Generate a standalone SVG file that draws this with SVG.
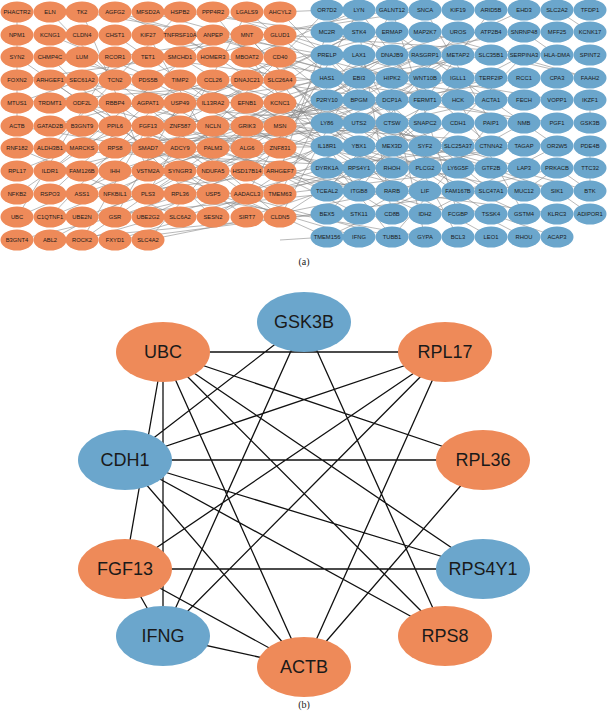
<svg xmlns="http://www.w3.org/2000/svg" width="608" height="717" viewBox="0 0 608 717">
<style>
.o{fill:#ee8a59}
.b{fill:#6ba6cc}
.t{font-family:"Liberation Sans",Arial,sans-serif;font-size:5.8px;fill:#1a1a1a;text-anchor:middle;dominant-baseline:central}
.T{font-family:"Liberation Sans",Arial,sans-serif;font-size:18px;fill:#1a1a1a;text-anchor:middle;dominant-baseline:central}
.cap{font-family:"Liberation Serif","Times New Roman",serif;font-size:10px;fill:#222;text-anchor:middle}
.e{stroke:#8a8a8a;stroke-width:0.6;fill:none}
.E{stroke:#111;stroke-width:1.3;fill:none}
</style>
<rect width="608" height="717" fill="#fff"/>
<g id="edges-a">
<path class="e" d="M213 12L425 78M247 35L327 123M280 57L392 146M280 80L359 191M247 103L458 32M213 126L327 10M280 148L425 214M247 171L359 55M280 194L491 168M213 217L392 100M148 240L392 191M180 217L425 146M148 194L359 78M115 171L327 100M82 148L458 123M50 126L392 32M180 103L491 55M148 80L327 168M115 57L425 10M180 35L359 146M82 12L327 55M213 57L524 100M247 80L557 123M280 12L458 191M280 103L524 214M280 171L327 32M213 194L359 237M247 217L458 146M180 148L392 55M148 126L425 100M115 103L359 123M213 148L327 191M247 57L359 10M180 171L491 100M148 12L392 78M280 35L557 55M280 126L425 168M247 194L524 146M213 103L392 214M180 194L425 237M115 217L327 146M82 194L458 55M50 171L359 100M17 148L392 168M115 148L524 78M148 57L458 100M213 35L327 78M247 12L392 123M50 240L327 214M115 240L359 168M280 12L327 10M247 126L425 55M213 171L491 32M280 217L392 10M180 126L359 214M148 171L458 78M115 194L327 55M213 80L524 168M247 148L359 168M280 240L327 237"/>
<path class="e" d="M17 103L327 78M50 80L392 123M82 103L425 191M115 126L458 214M148 103L327 191M180 57L359 168M213 12L392 237M247 148L491 78M280 171L458 55M82 171L359 32M50 217L327 100M115 194L491 146M148 217L425 78M213 126L524 191M247 103L392 168M280 80L491 191M280 148L359 10M17 217L392 55M50 148L425 123M82 240L327 168M148 148L458 146M180 80L327 146M213 171L425 32M247 35L392 191M280 126L557 146M213 103L359 32M180 12L327 32M148 57L392 10M115 12L359 78M247 194L327 55M280 217L425 123M213 217L524 55M180 171L327 237M148 171L392 237M115 103L425 168M82 126L327 123M50 57L458 146M247 57L491 214M280 35L392 78M213 80L359 146M180 126L425 55M247 171L557 214M280 194L327 100M115 240L491 191M82 217L359 191M280 57L524 123"/>
<path class="e" d="M17 12L17 126M50 35L213 103M82 57L247 148M17 80L180 57M50 103L280 35M82 126L213 171M17 171L247 80M50 194L148 103M82 217L280 148M17 240L213 194M115 12L280 80M148 35L213 148M17 194L115 126M50 148L180 12M82 80L247 194M115 80L280 217M180 80L50 217M82 240L280 103M50 57L213 217M115 35L247 126M17 57L148 148M50 12L115 80M17 126L280 171M50 171L213 35M82 12L148 171M115 148L280 57M148 194L247 12M180 217L17 148M247 217L50 80M82 194L213 80M115 217L180 103M148 240L247 126M17 103L148 57M50 240L180 171M82 103L280 194M17 217L115 57M148 126L82 240"/>
<path class="e" d="M327 32L491 78M359 10L425 100M392 55L524 32M327 78L458 168M359 123L557 191M392 191L524 55M425 32L590 78M458 78L327 214M491 146L359 32M425 214L557 146M327 146L491 237M392 10L458 214M359 214L524 123M590 100L590 123M590 146L590 168M590 168L590 191M557 168L590 191M557 191L590 214M491 214L557 237M524 191L557 168M458 191L557 168M425 146L590 191M392 146L557 191M359 168L524 146M557 10L590 32M524 32L557 55M491 55L590 78M327 100L524 10M359 55L458 237M392 237L491 123M327 123L458 55M359 78L491 191M392 100L425 237M327 55L425 146M359 191L491 10M392 168L524 237M425 78L557 100M458 123L327 168M491 168L359 146M327 191L458 32M359 32L392 214M425 10L491 123M392 32L557 146M458 100L524 214M327 237L425 191"/>
</g>
<g id="nodes-a">
<g class="o">
<ellipse cx="17" cy="12" rx="16.5" ry="10.5"/><ellipse cx="50" cy="12" rx="16.5" ry="10.5"/><ellipse cx="82" cy="12" rx="16.5" ry="10.5"/><ellipse cx="115" cy="12" rx="16.5" ry="10.5"/><ellipse cx="148" cy="12" rx="16.5" ry="10.5"/><ellipse cx="180" cy="12" rx="16.5" ry="10.5"/><ellipse cx="213" cy="12" rx="16.5" ry="10.5"/><ellipse cx="247" cy="12" rx="16.5" ry="10.5"/><ellipse cx="280" cy="12" rx="16.5" ry="10.5"/>
<ellipse cx="17" cy="35" rx="16.5" ry="10.5"/><ellipse cx="50" cy="35" rx="16.5" ry="10.5"/><ellipse cx="82" cy="35" rx="16.5" ry="10.5"/><ellipse cx="115" cy="35" rx="16.5" ry="10.5"/><ellipse cx="148" cy="35" rx="16.5" ry="10.5"/><ellipse cx="180" cy="35" rx="16.5" ry="10.5"/><ellipse cx="213" cy="35" rx="16.5" ry="10.5"/><ellipse cx="247" cy="35" rx="16.5" ry="10.5"/><ellipse cx="280" cy="35" rx="16.5" ry="10.5"/>
<ellipse cx="17" cy="57" rx="16.5" ry="10.5"/><ellipse cx="50" cy="57" rx="16.5" ry="10.5"/><ellipse cx="82" cy="57" rx="16.5" ry="10.5"/><ellipse cx="115" cy="57" rx="16.5" ry="10.5"/><ellipse cx="148" cy="57" rx="16.5" ry="10.5"/><ellipse cx="180" cy="57" rx="16.5" ry="10.5"/><ellipse cx="213" cy="57" rx="16.5" ry="10.5"/><ellipse cx="247" cy="57" rx="16.5" ry="10.5"/><ellipse cx="280" cy="57" rx="16.5" ry="10.5"/>
<ellipse cx="17" cy="80" rx="16.5" ry="10.5"/><ellipse cx="50" cy="80" rx="16.5" ry="10.5"/><ellipse cx="82" cy="80" rx="16.5" ry="10.5"/><ellipse cx="115" cy="80" rx="16.5" ry="10.5"/><ellipse cx="148" cy="80" rx="16.5" ry="10.5"/><ellipse cx="180" cy="80" rx="16.5" ry="10.5"/><ellipse cx="213" cy="80" rx="16.5" ry="10.5"/><ellipse cx="247" cy="80" rx="16.5" ry="10.5"/><ellipse cx="280" cy="80" rx="16.5" ry="10.5"/>
<ellipse cx="17" cy="103" rx="16.5" ry="10.5"/><ellipse cx="50" cy="103" rx="16.5" ry="10.5"/><ellipse cx="82" cy="103" rx="16.5" ry="10.5"/><ellipse cx="115" cy="103" rx="16.5" ry="10.5"/><ellipse cx="148" cy="103" rx="16.5" ry="10.5"/><ellipse cx="180" cy="103" rx="16.5" ry="10.5"/><ellipse cx="213" cy="103" rx="16.5" ry="10.5"/><ellipse cx="247" cy="103" rx="16.5" ry="10.5"/><ellipse cx="280" cy="103" rx="16.5" ry="10.5"/>
<ellipse cx="17" cy="126" rx="16.5" ry="10.5"/><ellipse cx="50" cy="126" rx="16.5" ry="10.5"/><ellipse cx="82" cy="126" rx="16.5" ry="10.5"/><ellipse cx="115" cy="126" rx="16.5" ry="10.5"/><ellipse cx="148" cy="126" rx="16.5" ry="10.5"/><ellipse cx="180" cy="126" rx="16.5" ry="10.5"/><ellipse cx="213" cy="126" rx="16.5" ry="10.5"/><ellipse cx="247" cy="126" rx="16.5" ry="10.5"/><ellipse cx="280" cy="126" rx="16.5" ry="10.5"/>
<ellipse cx="17" cy="148" rx="16.5" ry="10.5"/><ellipse cx="50" cy="148" rx="16.5" ry="10.5"/><ellipse cx="82" cy="148" rx="16.5" ry="10.5"/><ellipse cx="115" cy="148" rx="16.5" ry="10.5"/><ellipse cx="148" cy="148" rx="16.5" ry="10.5"/><ellipse cx="180" cy="148" rx="16.5" ry="10.5"/><ellipse cx="213" cy="148" rx="16.5" ry="10.5"/><ellipse cx="247" cy="148" rx="16.5" ry="10.5"/><ellipse cx="280" cy="148" rx="16.5" ry="10.5"/>
<ellipse cx="17" cy="171" rx="16.5" ry="10.5"/><ellipse cx="50" cy="171" rx="16.5" ry="10.5"/><ellipse cx="82" cy="171" rx="16.5" ry="10.5"/><ellipse cx="115" cy="171" rx="16.5" ry="10.5"/><ellipse cx="148" cy="171" rx="16.5" ry="10.5"/><ellipse cx="180" cy="171" rx="16.5" ry="10.5"/><ellipse cx="213" cy="171" rx="16.5" ry="10.5"/><ellipse cx="247" cy="171" rx="16.5" ry="10.5"/><ellipse cx="280" cy="171" rx="16.5" ry="10.5"/>
<ellipse cx="17" cy="194" rx="16.5" ry="10.5"/><ellipse cx="50" cy="194" rx="16.5" ry="10.5"/><ellipse cx="82" cy="194" rx="16.5" ry="10.5"/><ellipse cx="115" cy="194" rx="16.5" ry="10.5"/><ellipse cx="148" cy="194" rx="16.5" ry="10.5"/><ellipse cx="180" cy="194" rx="16.5" ry="10.5"/><ellipse cx="213" cy="194" rx="16.5" ry="10.5"/><ellipse cx="247" cy="194" rx="16.5" ry="10.5"/><ellipse cx="280" cy="194" rx="16.5" ry="10.5"/>
<ellipse cx="17" cy="217" rx="16.5" ry="10.5"/><ellipse cx="50" cy="217" rx="16.5" ry="10.5"/><ellipse cx="82" cy="217" rx="16.5" ry="10.5"/><ellipse cx="115" cy="217" rx="16.5" ry="10.5"/><ellipse cx="148" cy="217" rx="16.5" ry="10.5"/><ellipse cx="180" cy="217" rx="16.5" ry="10.5"/><ellipse cx="213" cy="217" rx="16.5" ry="10.5"/><ellipse cx="247" cy="217" rx="16.5" ry="10.5"/><ellipse cx="280" cy="217" rx="16.5" ry="10.5"/>
<ellipse cx="17" cy="240" rx="16.5" ry="10.5"/><ellipse cx="50" cy="240" rx="16.5" ry="10.5"/><ellipse cx="82" cy="240" rx="16.5" ry="10.5"/><ellipse cx="115" cy="240" rx="16.5" ry="10.5"/><ellipse cx="148" cy="240" rx="16.5" ry="10.5"/>
</g>
<g class="b">
<ellipse cx="327" cy="10" rx="16.5" ry="10.5"/><ellipse cx="359" cy="10" rx="16.5" ry="10.5"/><ellipse cx="392" cy="10" rx="16.5" ry="10.5"/><ellipse cx="425" cy="10" rx="16.5" ry="10.5"/><ellipse cx="458" cy="10" rx="16.5" ry="10.5"/><ellipse cx="491" cy="10" rx="16.5" ry="10.5"/><ellipse cx="524" cy="10" rx="16.5" ry="10.5"/><ellipse cx="557" cy="10" rx="16.5" ry="10.5"/><ellipse cx="590" cy="10" rx="16.5" ry="10.5"/>
<ellipse cx="327" cy="32" rx="16.5" ry="10.5"/><ellipse cx="359" cy="32" rx="16.5" ry="10.5"/><ellipse cx="392" cy="32" rx="16.5" ry="10.5"/><ellipse cx="425" cy="32" rx="16.5" ry="10.5"/><ellipse cx="458" cy="32" rx="16.5" ry="10.5"/><ellipse cx="491" cy="32" rx="16.5" ry="10.5"/><ellipse cx="524" cy="32" rx="16.5" ry="10.5"/><ellipse cx="557" cy="32" rx="16.5" ry="10.5"/><ellipse cx="590" cy="32" rx="16.5" ry="10.5"/>
<ellipse cx="327" cy="55" rx="16.5" ry="10.5"/><ellipse cx="359" cy="55" rx="16.5" ry="10.5"/><ellipse cx="392" cy="55" rx="16.5" ry="10.5"/><ellipse cx="425" cy="55" rx="16.5" ry="10.5"/><ellipse cx="458" cy="55" rx="16.5" ry="10.5"/><ellipse cx="491" cy="55" rx="16.5" ry="10.5"/><ellipse cx="524" cy="55" rx="16.5" ry="10.5"/><ellipse cx="557" cy="55" rx="16.5" ry="10.5"/><ellipse cx="590" cy="55" rx="16.5" ry="10.5"/>
<ellipse cx="327" cy="78" rx="16.5" ry="10.5"/><ellipse cx="359" cy="78" rx="16.5" ry="10.5"/><ellipse cx="392" cy="78" rx="16.5" ry="10.5"/><ellipse cx="425" cy="78" rx="16.5" ry="10.5"/><ellipse cx="458" cy="78" rx="16.5" ry="10.5"/><ellipse cx="491" cy="78" rx="16.5" ry="10.5"/><ellipse cx="524" cy="78" rx="16.5" ry="10.5"/><ellipse cx="557" cy="78" rx="16.5" ry="10.5"/><ellipse cx="590" cy="78" rx="16.5" ry="10.5"/>
<ellipse cx="327" cy="100" rx="16.5" ry="10.5"/><ellipse cx="359" cy="100" rx="16.5" ry="10.5"/><ellipse cx="392" cy="100" rx="16.5" ry="10.5"/><ellipse cx="425" cy="100" rx="16.5" ry="10.5"/><ellipse cx="458" cy="100" rx="16.5" ry="10.5"/><ellipse cx="491" cy="100" rx="16.5" ry="10.5"/><ellipse cx="524" cy="100" rx="16.5" ry="10.5"/><ellipse cx="557" cy="100" rx="16.5" ry="10.5"/><ellipse cx="590" cy="100" rx="16.5" ry="10.5"/>
<ellipse cx="327" cy="123" rx="16.5" ry="10.5"/><ellipse cx="359" cy="123" rx="16.5" ry="10.5"/><ellipse cx="392" cy="123" rx="16.5" ry="10.5"/><ellipse cx="425" cy="123" rx="16.5" ry="10.5"/><ellipse cx="458" cy="123" rx="16.5" ry="10.5"/><ellipse cx="491" cy="123" rx="16.5" ry="10.5"/><ellipse cx="524" cy="123" rx="16.5" ry="10.5"/><ellipse cx="557" cy="123" rx="16.5" ry="10.5"/><ellipse cx="590" cy="123" rx="16.5" ry="10.5"/>
<ellipse cx="327" cy="146" rx="16.5" ry="10.5"/><ellipse cx="359" cy="146" rx="16.5" ry="10.5"/><ellipse cx="392" cy="146" rx="16.5" ry="10.5"/><ellipse cx="425" cy="146" rx="16.5" ry="10.5"/><ellipse cx="458" cy="146" rx="16.5" ry="10.5"/><ellipse cx="491" cy="146" rx="16.5" ry="10.5"/><ellipse cx="524" cy="146" rx="16.5" ry="10.5"/><ellipse cx="557" cy="146" rx="16.5" ry="10.5"/><ellipse cx="590" cy="146" rx="16.5" ry="10.5"/>
<ellipse cx="327" cy="168" rx="16.5" ry="10.5"/><ellipse cx="359" cy="168" rx="16.5" ry="10.5"/><ellipse cx="392" cy="168" rx="16.5" ry="10.5"/><ellipse cx="425" cy="168" rx="16.5" ry="10.5"/><ellipse cx="458" cy="168" rx="16.5" ry="10.5"/><ellipse cx="491" cy="168" rx="16.5" ry="10.5"/><ellipse cx="524" cy="168" rx="16.5" ry="10.5"/><ellipse cx="557" cy="168" rx="16.5" ry="10.5"/><ellipse cx="590" cy="168" rx="16.5" ry="10.5"/>
<ellipse cx="327" cy="191" rx="16.5" ry="10.5"/><ellipse cx="359" cy="191" rx="16.5" ry="10.5"/><ellipse cx="392" cy="191" rx="16.5" ry="10.5"/><ellipse cx="425" cy="191" rx="16.5" ry="10.5"/><ellipse cx="458" cy="191" rx="16.5" ry="10.5"/><ellipse cx="491" cy="191" rx="16.5" ry="10.5"/><ellipse cx="524" cy="191" rx="16.5" ry="10.5"/><ellipse cx="557" cy="191" rx="16.5" ry="10.5"/><ellipse cx="590" cy="191" rx="16.5" ry="10.5"/>
<ellipse cx="327" cy="214" rx="16.5" ry="10.5"/><ellipse cx="359" cy="214" rx="16.5" ry="10.5"/><ellipse cx="392" cy="214" rx="16.5" ry="10.5"/><ellipse cx="425" cy="214" rx="16.5" ry="10.5"/><ellipse cx="458" cy="214" rx="16.5" ry="10.5"/><ellipse cx="491" cy="214" rx="16.5" ry="10.5"/><ellipse cx="524" cy="214" rx="16.5" ry="10.5"/><ellipse cx="557" cy="214" rx="16.5" ry="10.5"/><ellipse cx="590" cy="214" rx="16.5" ry="10.5"/>
<ellipse cx="327" cy="237" rx="16.5" ry="10.5"/><ellipse cx="359" cy="237" rx="16.5" ry="10.5"/><ellipse cx="392" cy="237" rx="16.5" ry="10.5"/><ellipse cx="425" cy="237" rx="16.5" ry="10.5"/><ellipse cx="458" cy="237" rx="16.5" ry="10.5"/><ellipse cx="491" cy="237" rx="16.5" ry="10.5"/><ellipse cx="524" cy="237" rx="16.5" ry="10.5"/><ellipse cx="557" cy="237" rx="16.5" ry="10.5"/>
</g>
<g class="t">
<text x="17" y="12">PHACTR2</text><text x="50" y="12">ELN</text><text x="82" y="12">TK2</text><text x="115" y="12">AGFG2</text><text x="148" y="12">MFSD2A</text><text x="180" y="12">HSPB2</text><text x="213" y="12">PPP4R2</text><text x="247" y="12">LGALS9</text><text x="280" y="12">AHCYL2</text>
<text x="17" y="35">NPM1</text><text x="50" y="35">KCNG1</text><text x="82" y="35">CLDN4</text><text x="115" y="35">CHST1</text><text x="148" y="35">KIF27</text><text x="180" y="35">TNFRSF10A</text><text x="213" y="35">ANPEP</text><text x="247" y="35">MNT</text><text x="280" y="35">GLUD1</text>
<text x="17" y="57">SYN2</text><text x="50" y="57">CHMP4C</text><text x="82" y="57">LUM</text><text x="115" y="57">RCOR1</text><text x="148" y="57">TET1</text><text x="180" y="57">SMCHD1</text><text x="213" y="57">HOMER3</text><text x="247" y="57">MBOAT2</text><text x="280" y="57">CD40</text>
<text x="17" y="80">FOXN2</text><text x="50" y="80">ARHGEF1</text><text x="82" y="80">SEC61A2</text><text x="115" y="80">TCN2</text><text x="148" y="80">PDS5B</text><text x="180" y="80">TIMP2</text><text x="213" y="80">CCL26</text><text x="247" y="80">DNAJC21</text><text x="280" y="80">SLC26A4</text>
<text x="17" y="103">MTUS1</text><text x="50" y="103">TRDMT1</text><text x="82" y="103">ODF2L</text><text x="115" y="103">RBBP4</text><text x="148" y="103">AGPAT1</text><text x="180" y="103">USP49</text><text x="213" y="103">IL13RA2</text><text x="247" y="103">EFNB1</text><text x="280" y="103">KCNC1</text>
<text x="17" y="126">ACTB</text><text x="50" y="126">GATAD2B</text><text x="82" y="126">B3GNT9</text><text x="115" y="126">PPIL6</text><text x="148" y="126">FGF13</text><text x="180" y="126">ZNF587</text><text x="213" y="126">NCLN</text><text x="247" y="126">GRIK3</text><text x="280" y="126">MSN</text>
<text x="17" y="148">RNF182</text><text x="50" y="148">ALDH3B1</text><text x="82" y="148">MARCKS</text><text x="115" y="148">RPS8</text><text x="148" y="148">SMAD7</text><text x="180" y="148">ADCY9</text><text x="213" y="148">PALM3</text><text x="247" y="148">ALG6</text><text x="280" y="148">ZNF831</text>
<text x="17" y="171">RPL17</text><text x="50" y="171">ILDR1</text><text x="82" y="171">FAM126B</text><text x="115" y="171">IHH</text><text x="148" y="171">VSTM2A</text><text x="180" y="171">SYNGR3</text><text x="213" y="171">NDUFA5</text><text x="247" y="171">HSD17B14</text><text x="280" y="171">ARHGEF7</text>
<text x="17" y="194">NFKB2</text><text x="50" y="194">RSPO3</text><text x="82" y="194">ASS1</text><text x="115" y="194">NFKBIL1</text><text x="148" y="194">PLS3</text><text x="180" y="194">RPL36</text><text x="213" y="194">USP5</text><text x="247" y="194">AADACL3</text><text x="280" y="194">TMEM63</text>
<text x="17" y="217">UBC</text><text x="50" y="217">C1QTNF1</text><text x="82" y="217">UBE2N</text><text x="115" y="217">GSR</text><text x="148" y="217">UBE2G2</text><text x="180" y="217">SLC6A2</text><text x="213" y="217">SESN2</text><text x="247" y="217">SIRT7</text><text x="280" y="217">CLDN5</text>
<text x="17" y="240">B3GNT4</text><text x="50" y="240">ABL2</text><text x="82" y="240">ROCK2</text><text x="115" y="240">FXYD1</text><text x="148" y="240">SLC4A2</text>
<text x="327" y="10">OR7D2</text><text x="359" y="10">LYN</text><text x="392" y="10">GALNT12</text><text x="425" y="10">SNCA</text><text x="458" y="10">KIF19</text><text x="491" y="10">ARID5B</text><text x="524" y="10">EHD3</text><text x="557" y="10">SLC2A2</text><text x="590" y="10">TFDP1</text>
<text x="327" y="32">MC2R</text><text x="359" y="32">STK4</text><text x="392" y="32">ERMAP</text><text x="425" y="32">MAP2K7</text><text x="458" y="32">UROS</text><text x="491" y="32">ATP2B4</text><text x="524" y="32">SNRNP48</text><text x="557" y="32">MFF25</text><text x="590" y="32">KCNK17</text>
<text x="327" y="55">PRELP</text><text x="359" y="55">LAX1</text><text x="392" y="55">DNAJB9</text><text x="425" y="55">RASGRP1</text><text x="458" y="55">METAP2</text><text x="491" y="55">SLC35B1</text><text x="524" y="55">SERPINA3</text><text x="557" y="55">HLA-DMA</text><text x="590" y="55">SPINT2</text>
<text x="327" y="78">HAS1</text><text x="359" y="78">EBI3</text><text x="392" y="78">HIPK2</text><text x="425" y="78">WNT10B</text><text x="458" y="78">IGLL1</text><text x="491" y="78">TERF2IP</text><text x="524" y="78">RCC1</text><text x="557" y="78">CPA3</text><text x="590" y="78">FAAH2</text>
<text x="327" y="100">P2RY10</text><text x="359" y="100">BPGM</text><text x="392" y="100">DCP1A</text><text x="425" y="100">FERMT1</text><text x="458" y="100">HCK</text><text x="491" y="100">ACTA1</text><text x="524" y="100">FECH</text><text x="557" y="100">VOPP1</text><text x="590" y="100">IKZF1</text>
<text x="327" y="123">LY86</text><text x="359" y="123">UTS2</text><text x="392" y="123">CTSW</text><text x="425" y="123">SNAPC2</text><text x="458" y="123">CDH1</text><text x="491" y="123">PAIP1</text><text x="524" y="123">NMB</text><text x="557" y="123">PGF1</text><text x="590" y="123">GSK3B</text>
<text x="327" y="146">IL18R1</text><text x="359" y="146">YBX1</text><text x="392" y="146">MEX3D</text><text x="425" y="146">SYF2</text><text x="458" y="146">SLC25A37</text><text x="491" y="146">CTNNA2</text><text x="524" y="146">TAGAP</text><text x="557" y="146">OR2W5</text><text x="590" y="146">PDE4B</text>
<text x="327" y="168">DYRK1A</text><text x="359" y="168">RPS4Y1</text><text x="392" y="168">RHOH</text><text x="425" y="168">PLCG2</text><text x="458" y="168">LY6G5F</text><text x="491" y="168">GTF2B</text><text x="524" y="168">LAP3</text><text x="557" y="168">PRKACB</text><text x="590" y="168">TTC32</text>
<text x="327" y="191">TCEAL2</text><text x="359" y="191">ITGB8</text><text x="392" y="191">RARB</text><text x="425" y="191">LIF</text><text x="458" y="191">FAM167B</text><text x="491" y="191">SLC47A1</text><text x="524" y="191">MUC12</text><text x="557" y="191">SIK1</text><text x="590" y="191">BTK</text>
<text x="327" y="214">BEX5</text><text x="359" y="214">STK11</text><text x="392" y="214">CD8B</text><text x="425" y="214">IDH2</text><text x="458" y="214">FCGBP</text><text x="491" y="214">TSSK4</text><text x="524" y="214">GSTM4</text><text x="557" y="214">KLRC3</text><text x="590" y="214">ADIPOR1</text>
<text x="327" y="237">TMEM156</text><text x="359" y="237">IFNG</text><text x="392" y="237">TUBB1</text><text x="425" y="237">GYPA</text><text x="458" y="237">BCL3</text><text x="491" y="237">LEO1</text><text x="524" y="237">RHOU</text><text x="557" y="237">ACAP3</text>
</g>
</g>
<text class="cap" x="304" y="265">(a)</text>
<g id="edges-b" class="E">
<path d="M163 352L445 352M125 460L483 460M304 322L125 460M304 322L445 635M304 322L163 636M163 352L483 460M163 352L483 569M163 352L445 635M163 352L304 667M163 352L163 636M163 352L125 569M445 352L125 460M445 352L125 569M445 352L304 667M445 352L163 636M125 460L483 569M125 460L445 635M125 460L304 667M125 569L163 636M125 569L304 667M125 569L483 569M483 460L304 667M163 636L304 667"/>
</g>
<g id="node-GSK3B"><ellipse class="b" cx="304" cy="322" rx="47" ry="30"/><text class="T" x="304" y="322">GSK3B</text></g>
<g id="node-UBC"><ellipse class="o" cx="163" cy="352" rx="47" ry="30"/><text class="T" x="163" y="352">UBC</text></g>
<g id="node-RPL17"><ellipse class="o" cx="445" cy="352" rx="47" ry="30"/><text class="T" x="445" y="352">RPL17</text></g>
<g id="node-CDH1"><ellipse class="b" cx="125" cy="460" rx="47" ry="30"/><text class="T" x="125" y="460">CDH1</text></g>
<g id="node-RPL36"><ellipse class="o" cx="483" cy="460" rx="47" ry="30"/><text class="T" x="483" y="460">RPL36</text></g>
<g id="node-FGF13"><ellipse class="o" cx="125" cy="569" rx="47" ry="30"/><text class="T" x="125" y="569">FGF13</text></g>
<g id="node-RPS4Y1"><ellipse class="b" cx="483" cy="569" rx="47" ry="30"/><text class="T" x="483" y="569">RPS4Y1</text></g>
<g id="node-IFNG"><ellipse class="b" cx="163" cy="636" rx="47" ry="30"/><text class="T" x="163" y="636">IFNG</text></g>
<g id="node-RPS8"><ellipse class="o" cx="445" cy="636" rx="47" ry="30"/><text class="T" x="445" y="636">RPS8</text></g>
<g id="node-ACTB"><ellipse class="o" cx="304" cy="667" rx="47" ry="30"/><text class="T" x="304" y="667">ACTB</text></g>
<text class="cap" x="304" y="708">(b)</text>
</svg>
